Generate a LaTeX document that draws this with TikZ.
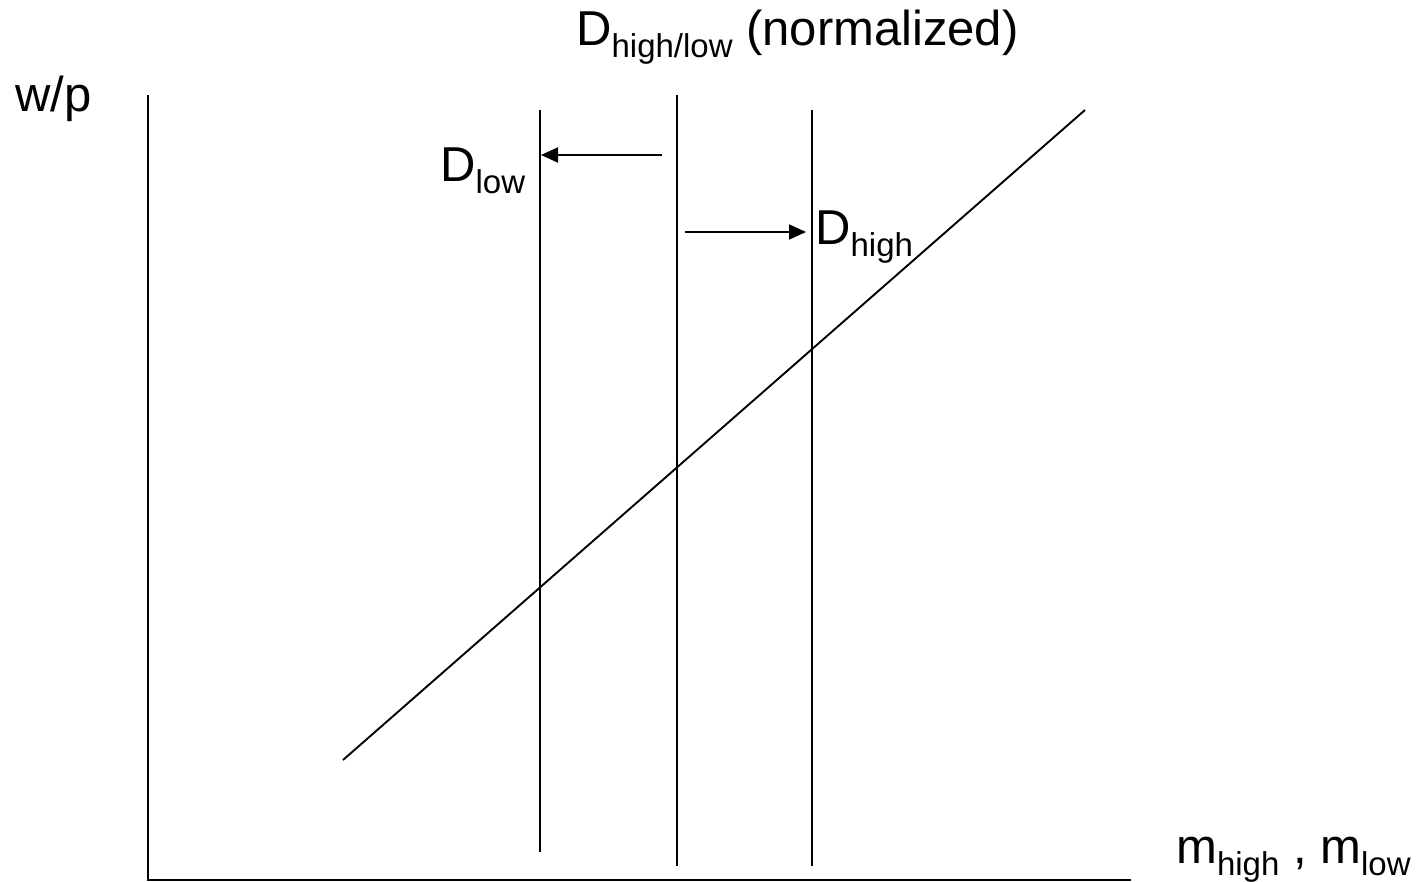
\documentclass[tikz,border=0pt]{standalone}
\usepackage{fontspec}
\setmainfont{Liberation Sans}
\usetikzlibrary{arrows.meta}
\newcommand{\lbl}{\fontsize{49}{56}\selectfont}
\newcommand{\sbs}[1]{\raisebox{-12pt}{\fontsize{33}{38}\selectfont #1}}
\begin{document}
\begin{tikzpicture}[x=1pt,y=-1pt,
  axis/.style={line width=2.6pt},
  curve/.style={line width=1.9pt},
  shiftarrow/.style={line width=1.9pt,-{Triangle[length=17pt,width=15pt]}},
  txt/.style={inner sep=0pt,anchor=base west,font=\lbl}]
\useasboundingbox (0,0) rectangle (1418,882);
% axes
\coordinate (o) at (148,880);
\coordinate (ytop) at (148,95);
\coordinate (xend) at (1131,880);
\draw[axis] (ytop) -- (o) -- (xend);
% vertical lines
\coordinate (l1t) at (540,110); \coordinate (l1b) at (540,852);
\coordinate (l2t) at (677,95);  \coordinate (l2b) at (677,866);
\coordinate (l3t) at (812,110); \coordinate (l3b) at (812,866);
\draw[curve] (l1t) -- (l1b);
\draw[curve] (l2t) -- (l2b);
\draw[curve] (l3t) -- (l3b);
% diagonal
\coordinate (s1) at (343,760); \coordinate (s2) at (1085,110);
\draw[curve] (s1) -- (s2);
% arrows
\coordinate (a1s) at (662,155); \coordinate (a1e) at (541,155);
\coordinate (a2s) at (685,232); \coordinate (a2e) at (806,232);
\draw[shiftarrow] (a1s) -- (a1e);
\draw[shiftarrow] (a2s) -- (a2e);
% labels
\node[txt] (wp) at (15,112) {w/p};
\node[txt] (dlow) at (440,182) {D\sbs{low}};
\node[txt] (dhigh) at (815,245) {D\sbs{high}};
\node[txt] (title) at (576,46) {D\sbs{high/low} (normalized)};
\node[txt] (mlab) at (1176,863) {m\sbs{high} , m\sbs{low}};
\end{tikzpicture}
\end{document}
